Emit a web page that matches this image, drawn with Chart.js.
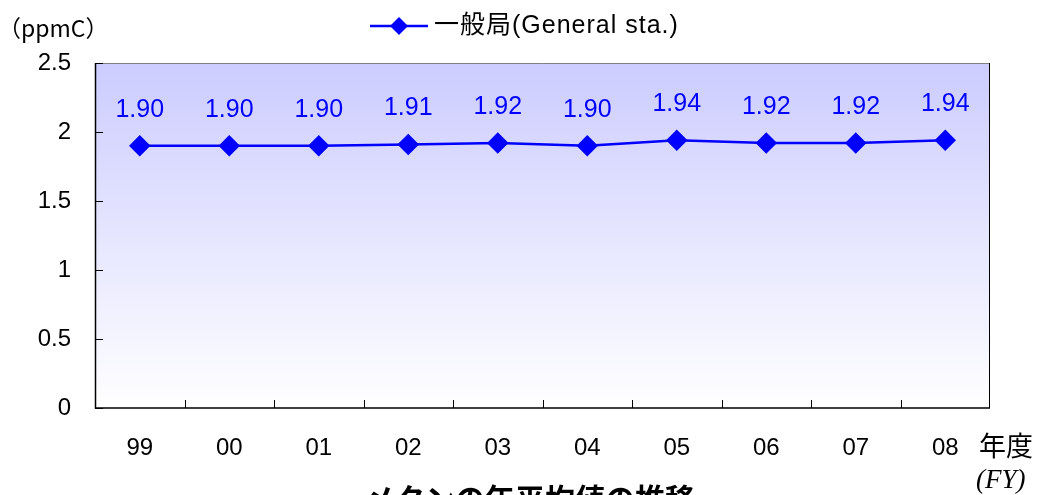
<!DOCTYPE html>
<html>
<head>
<meta charset="utf-8">
<script src="https://cdn.jsdelivr.net/npm/chart.js@4/dist/chart.umd.min.js"></script>
<style>
  html, body { margin: 0; padding: 0; background: #fff; }
  #wrap { width: 1039px; height: 495px; position: relative; }
</style>
</head>
<body>
<div id="wrap"><canvas id="graph-methane"></canvas></div>
<script>
const years = ['99', '00', '01', '02', '03', '04', '05', '06', '07', '08'];
const generalSta = [1.90, 1.90, 1.90, 1.91, 1.92, 1.90, 1.94, 1.92, 1.92, 1.94];
const seriesName = '一般局(General sta.)';
const unitLabel = '（ppmC）';
const xUnit = '年度';
const xUnitEn = '(FY)';
const chartTitle = 'メタンの年平均値の推移';

const FONT = "'Liberation Sans', 'Noto Sans CJK JP', sans-serif";

// background gradient, frame, tick marks, labels and extra texts
const decor = {
  id: 'decor',
  beforeDatasetsDraw(chart) {
    const { ctx, chartArea: a } = chart;
    ctx.save();
    const g = ctx.createLinearGradient(0, a.top, 0, a.bottom);
    g.addColorStop(0, '#ccccff');
    g.addColorStop(1, '#ffffff');
    ctx.fillStyle = g;
    ctx.fillRect(a.left, a.top, a.right - a.left, a.bottom - a.top);

    // frame
    ctx.lineWidth = 1;
    ctx.strokeStyle = '#808080';
    ctx.beginPath();
    ctx.moveTo(a.left, a.top + 0.5);
    ctx.lineTo(a.right, a.top + 0.5);
    ctx.stroke();
    ctx.strokeStyle = '#000';
    ctx.beginPath();
    ctx.moveTo(a.right - 0.5, a.top);
    ctx.lineTo(a.right - 0.5, a.bottom);
    ctx.stroke();
    ctx.lineWidth = 1.5;
    ctx.beginPath();
    ctx.moveTo(a.left + 0.5, a.top);
    ctx.lineTo(a.left + 0.5, a.bottom);
    ctx.lineTo(a.right, a.bottom);
    ctx.stroke();

    // y ticks (inside)
    const y = chart.scales.y;
    ctx.lineWidth = 1;
    ctx.strokeStyle = '#000';
    y.ticks.forEach(t => {
      const py = Math.round(y.getPixelForValue(t.value)) + 0.5;
      ctx.beginPath();
      ctx.moveTo(a.left, py);
      ctx.lineTo(a.left + 8, py);
      ctx.stroke();
    });
    // x ticks between categories (inside, upward)
    const step = (a.right - a.left) / years.length;
    for (let i = 1; i < years.length; i++) {
      const px = Math.round(a.left + step * i) + 0.5;
      ctx.beginPath();
      ctx.moveTo(px, a.bottom);
      ctx.lineTo(px, a.bottom - 8);
      ctx.stroke();
    }
    ctx.restore();
  },
  afterDatasetsDraw(chart) {
    const { ctx } = chart;
    const meta = chart.getDatasetMeta(0);
    ctx.save();
    // data labels
    ctx.fillStyle = '#0000ff';
    ctx.font = '25px ' + FONT;
    ctx.textAlign = 'center';
    ctx.textBaseline = 'middle';
    meta.data.forEach((p, i) => {
      ctx.fillText(generalSta[i].toFixed(2), p.x, p.y - 36);
    });

    // legend
    const ly = 26;
    ctx.strokeStyle = '#0000ff';
    ctx.lineWidth = 2.5;
    ctx.beginPath();
    ctx.moveTo(370, ly);
    ctx.lineTo(428, ly);
    ctx.stroke();
    ctx.fillStyle = '#0000ff';
    ctx.beginPath();
    ctx.moveTo(399, ly - 9);
    ctx.lineTo(408, ly);
    ctx.lineTo(399, ly + 9);
    ctx.lineTo(390, ly);
    ctx.closePath();
    ctx.fill();
    ctx.fillStyle = '#000';
    ctx.font = '25px ' + FONT;
    ctx.letterSpacing = '1px';
    ctx.textAlign = 'left';
    ctx.fillText(seriesName, 434, ly);
    ctx.letterSpacing = '0px';

    // unit
    ctx.font = "23px 'Noto Sans CJK JP', sans-serif";
    ctx.fillText(unitLabel, -2, 28);

    // x unit
    ctx.font = "27px 'Noto Sans CJK JP', sans-serif";
    ctx.fillText(xUnit, 979, 446);
    ctx.font = "italic 27px 'Liberation Serif', serif";
    ctx.fillText(xUnitEn, 976, 481);

    // title (cut at the bottom edge)
    ctx.font = "bold 30px 'Noto Sans CJK JP', sans-serif";
    ctx.textAlign = 'center';
    ctx.fillText(chartTitle, 530, 499);
    ctx.restore();
  }
};

var ctxMethane = document.getElementById('graph-methane').getContext('2d');
var methane = new Chart(ctxMethane, {
  type: 'line',
  data: {
    labels: years,
    datasets: [{
      label: seriesName,
      data: generalSta,
      borderColor: '#0000ff',
      backgroundColor: '#0000ff',
      borderWidth: 2.5,
      pointStyle: 'rectRot',
      pointRadius: 9,
      pointHoverRadius: 9,
      tension: 0
    }]
  },
  options: {
    responsive: true,
    maintainAspectRatio: false,
    animation: false,
    events: [],
    layout: { padding: { left: 0, right: 49, top: 63, bottom: 0 } },
    plugins: {
      legend: { display: false },
      tooltip: { enabled: false }
    },
    scales: {
      x: {
        offset: true,
        grid: { display: false },
        border: { display: false },
        ticks: { color: '#000', font: { size: 24, family: FONT }, padding: 18, maxRotation: 0 },
        afterFit(scale) { scale.height = 87; }
      },
      y: {
        min: 0,
        max: 2.5,
        grid: { display: false },
        border: { display: false },
        ticks: {
          stepSize: 0.5,
          color: '#000',
          font: { size: 24, family: FONT },
          padding: 16,
          callback: (v) => String(v)
        },
        afterFit(scale) { scale.width = 95; }
      }
    }
  },
  plugins: [decor]
});
</script>
</body>
</html>
